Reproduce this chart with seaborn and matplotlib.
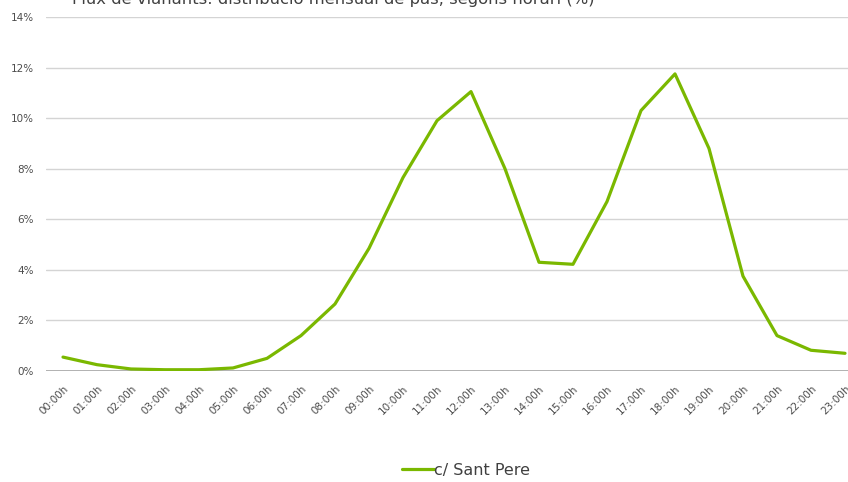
import matplotlib
matplotlib.use("Agg")
import matplotlib.pyplot as plt
import numpy as np
import pandas as pd
import seaborn as sns

hores = ["%02d:00h" % h for h in range(24)]
sant_pere = [0.55, 0.25, 0.08, 0.05, 0.05, 0.12, 0.5, 1.4, 2.65, 4.85, 7.65, 9.9,
             11.05, 8.0, 4.3, 4.22, 6.7, 10.3, 11.75, 8.8, 3.75, 1.4, 0.82, 0.7]
titol = "Flux de vianants: distribució mensual de pas, segons horari (%)"
serie = "c/ Sant Pere"

df = pd.DataFrame({"hora": hores, "pct": sant_pere})

sns.set_style("white")
plt.rcParams['font.family'] = ['DejaVu Sans']

fig = plt.figure(figsize=(8.48, 4.82), dpi=100)
ax = fig.add_axes([46 / 848, 1 - 371 / 482, 816 / 848, (371 - 17) / 482])

sns.lineplot(data=df, x="hora", y="pct", ax=ax, color="#7ab800", lw=2.3,
             label=serie, sort=False)

ax.set_xlim(-0.5, 23.5)
ax.set_ylim(0, 14)
ax.set_yticks(np.arange(0, 15, 2))
ax.set_yticklabels(["%d%%" % v for v in range(0, 15, 2)])
ax.grid(axis="y", color="#d4d4d4", lw=1)
ax.axhline(0, color="#a6a6a6", lw=1.2, zorder=1)
for s in ax.spines.values():
    s.set_visible(False)
ax.set_xlabel("")
ax.set_ylabel("")
ax.tick_params(axis="y", length=0, pad=9, labelsize=7.5, labelcolor="#4d4d4d")
ax.tick_params(axis="x", length=0, pad=9, labelsize=7.5, labelcolor="#4d4d4d")
plt.setp(ax.get_xticklabels(), rotation=45, ha="right", rotation_mode="anchor")

ax.get_legend().remove()
fig.legend(loc="center", bbox_to_anchor=(466 / 848, 1 - 470 / 482), frameon=False,
           fontsize=11.5, handlelength=2.0, handletextpad=0.05,
           labelcolor="#404040")

fig.text(333 / 848, 1 - 4 / 482, titol, ha="center", va="baseline",
         fontsize=11.8, color="#404040")

fig.savefig("out.png", dpi=100)
